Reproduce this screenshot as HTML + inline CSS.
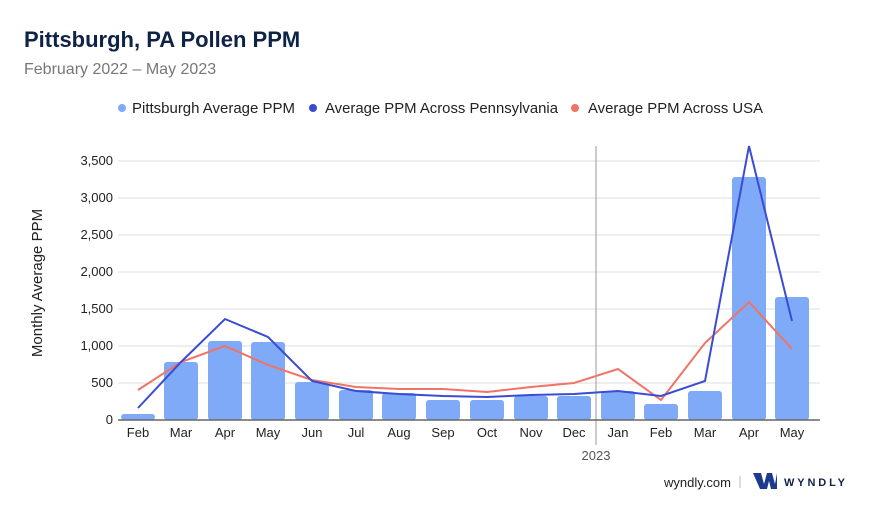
<!DOCTYPE html>
<html><head><meta charset="utf-8"><style>
body{margin:0;background:#fff;}
svg{display:block;font-family:"Liberation Sans",sans-serif;}
</style></head><body>
<svg width="880" height="510" viewBox="0 0 880 510" xmlns="http://www.w3.org/2000/svg">
<text x="24" y="47" font-size="22" font-weight="bold" fill="#0f2347">Pittsburgh, PA Pollen PPM</text>
<text x="24" y="74" font-size="16" fill="#777">February 2022 – May 2023</text>
<g font-size="15" fill="#222">
<circle cx="122" cy="108" r="4" fill="#7faaf7"/><text x="132" y="113" textLength="163" lengthAdjust="spacingAndGlyphs">Pittsburgh Average PPM</text>
<circle cx="313" cy="108" r="4" fill="#3a4bd4"/><text x="325" y="113" textLength="233" lengthAdjust="spacingAndGlyphs">Average PPM Across Pennsylvania</text>
<circle cx="575" cy="108" r="4" fill="#f07466"/><text x="588" y="113" textLength="175" lengthAdjust="spacingAndGlyphs">Average PPM Across USA</text>
</g>
<g stroke="#ddd" stroke-width="1">
<line x1="118" y1="383" x2="820" y2="383"/><line x1="118" y1="346" x2="820" y2="346"/>
<line x1="118" y1="309" x2="820" y2="309"/><line x1="118" y1="272" x2="820" y2="272"/>
<line x1="118" y1="235" x2="820" y2="235"/><line x1="118" y1="198" x2="820" y2="198"/>
<line x1="118" y1="161" x2="820" y2="161"/>
</g>
<g font-size="13" fill="#222" text-anchor="end">
<text x="113" y="424">0</text><text x="113" y="387">500</text><text x="113" y="350">1,000</text>
<text x="113" y="313">1,500</text><text x="113" y="276">2,000</text><text x="113" y="239">2,500</text>
<text x="113" y="202">3,000</text><text x="113" y="165">3,500</text>
</g>
<text transform="translate(42,283) rotate(-90)" font-size="15" fill="#222" text-anchor="middle">Monthly Average PPM</text>
<line x1="596" y1="146" x2="596" y2="445" stroke="#999" stroke-width="1"/>
<g fill="#7faaf7">
<rect x="121" y="414" width="34" height="6" rx="3"/>
<rect x="164" y="362" width="34" height="58" rx="3"/>
<rect x="208" y="341" width="34" height="79" rx="3"/>
<rect x="251" y="342" width="34" height="78" rx="3"/>
<rect x="295" y="382" width="34" height="38" rx="3"/>
<rect x="339" y="390" width="34" height="30" rx="3"/>
<rect x="382" y="393" width="34" height="27" rx="3"/>
<rect x="426" y="400" width="34" height="20" rx="3"/>
<rect x="470" y="400" width="34" height="20" rx="3"/>
<rect x="514" y="396" width="34" height="24" rx="3"/>
<rect x="557" y="396" width="34" height="24" rx="3"/>
<rect x="601" y="391" width="34" height="29" rx="3"/>
<rect x="644" y="404" width="34" height="16" rx="3"/>
<rect x="688" y="391" width="34" height="29" rx="3"/>
<rect x="732" y="177" width="34" height="243" rx="3"/>
<rect x="775" y="297" width="34" height="123" rx="3"/>
</g>
<line x1="118" y1="420" x2="820" y2="420" stroke="#666" stroke-width="1.5"/>
<polyline fill="none" stroke="#f07466" stroke-width="2" points="138,390 181,362 225,346 268,365 312,380 356,387 399,389 443,389 487,392 531,387 574,383 618,369 661,400 705,343 749,302 792,349"/>
<polyline fill="none" stroke="#3a4bd4" stroke-width="2" points="138,408 181,362 225,319 268,337 312,381 356,391 399,394 443,396 487,397 531,395 574,394 618,391 661,396 705,381 749,146 792,321"/>
<g font-size="13" fill="#222" text-anchor="middle">
<text x="138" y="437">Feb</text><text x="181" y="437">Mar</text><text x="225" y="437">Apr</text>
<text x="268" y="437">May</text><text x="312" y="437">Jun</text><text x="356" y="437">Jul</text>
<text x="399" y="437">Aug</text><text x="443" y="437">Sep</text><text x="487" y="437">Oct</text>
<text x="531" y="437">Nov</text><text x="574" y="437">Dec</text><text x="618" y="437">Jan</text>
<text x="661" y="437">Feb</text><text x="705" y="437">Mar</text><text x="749" y="437">Apr</text>
<text x="792" y="437">May</text>
<text x="596" y="460" fill="#555">2023</text>
</g>
<text x="731" y="487" font-size="13" fill="#222" text-anchor="end">wyndly.com</text>
<line x1="740" y1="476" x2="740" y2="488" stroke="#bbb"/>
<path d="M753 473 L761 473 L764 484 L767 473 L772 473 L775 484 L777 473 L777 489 L771 489 L769 481 L767 489 L760 489 Z" fill="#1d3a8f"/>
<text x="784" y="486" font-size="11" font-weight="bold" fill="#0f2347" textLength="61" lengthAdjust="spacing">WYNDLY</text>
</svg>
</body></html>
